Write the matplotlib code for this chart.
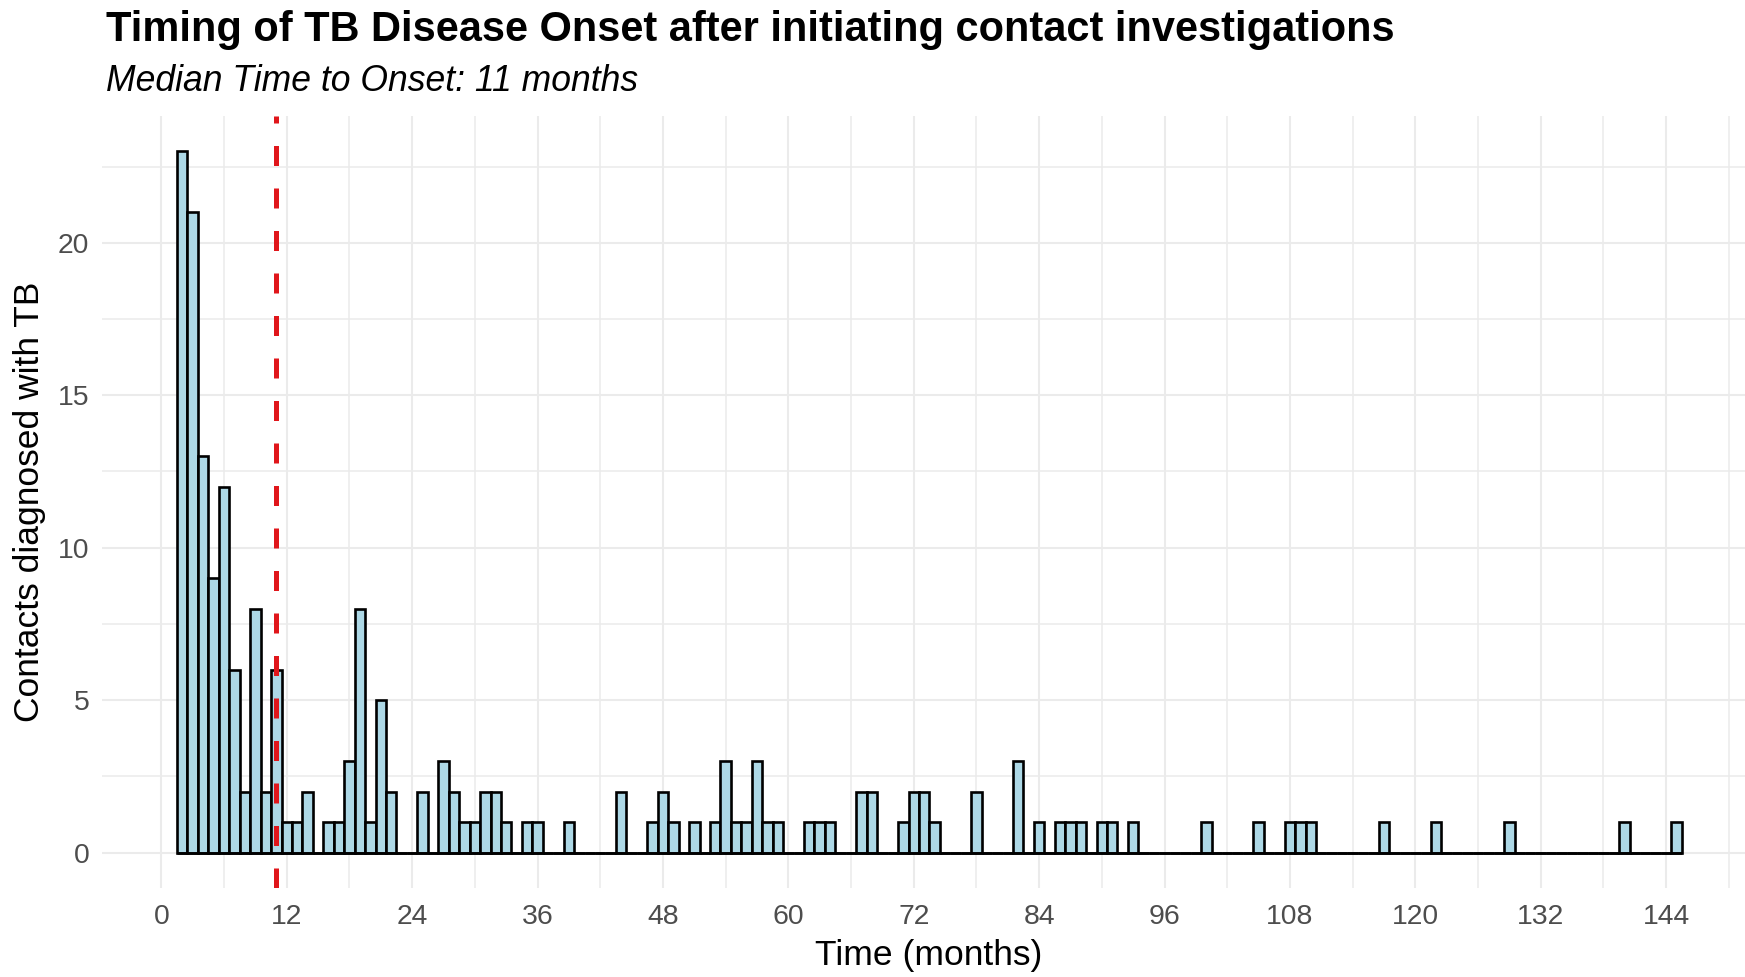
"""Histogram of months from contact investigation start to TB disease onset."""
import numpy as np
import matplotlib
matplotlib.use("Agg")
import matplotlib.pyplot as plt
from matplotlib.ticker import MultipleLocator

plt.rcParams["font.family"] = ["Liberation Sans", "DejaVu Sans"]

# months (1-month bins) with at least one contact diagnosed
onset_month = [2, 3, 4, 5, 6, 7, 8, 9, 10, 11, 12, 13, 14,
               16, 17, 18, 19, 20, 21, 22,
               25, 27, 28, 29, 30, 31, 32, 33, 35, 36, 39,
               44, 47, 48, 49, 51, 53, 54, 55, 56, 57, 58, 59,
               62, 63, 64, 67, 68, 71, 72, 73, 74, 78,
               82, 84, 86, 87, 88, 90, 91, 93,
               100, 105, 108, 109, 110, 117, 122, 129, 140, 145]
n_contacts = [23, 21, 13, 9, 12, 6, 2, 8, 2, 6, 1, 1, 2,
              1, 1, 3, 8, 1, 5, 2,
              2, 3, 2, 1, 1, 2, 2, 1, 1, 1, 1,
              2, 1, 2, 1, 1, 1, 3, 1, 1, 3, 1, 1,
              1, 1, 1, 2, 2, 1, 2, 2, 1, 2,
              3, 1, 1, 1, 1, 1, 1, 1,
              1, 1, 1, 1, 1, 1, 1, 1, 1, 1]
median_months = 11

# full run of bins so empty months still sit on the baseline
bins = np.arange(min(onset_month), max(onset_month) + 1)
counts = np.zeros(len(bins))
counts[np.searchsorted(bins, onset_month)] = n_contacts

W, H = 1745, 977
fig = plt.figure(figsize=(W / 100, H / 100), dpi=100)
fig.patch.set_facecolor("white")

# panel runs slightly past the right edge of the canvas
left, right, top, bottom = 101.8, 1757, 116.2, 887.6
ax = fig.add_axes([left / W, 1 - bottom / H, (right - left) / W, (bottom - top) / H])

ax.bar(bins, counts, width=1, color="#ADD8E6", edgecolor="black",
       linewidth=1.9, zorder=2)
ax.hlines(0, bins[0] - 0.5, bins[-1] + 0.5, color="black", linewidth=1.9,
          zorder=2.5)
ax.axvline(median_months, color="#E0161B", linewidth=3.6,
           dashes=(4, 4.5), zorder=3)

span = bins[-1] + 0.5 - (bins[0] - 0.5)
ax.set_xlim(bins[0] - 0.5 - 0.05 * span, bins[-1] + 0.5 + 0.05 * span)
ymax = max(n_contacts)
ax.set_ylim(-0.05 * ymax, ymax * 1.05)

ax.xaxis.set_major_locator(MultipleLocator(12))
ax.xaxis.set_minor_locator(MultipleLocator(6))
ax.yaxis.set_major_locator(MultipleLocator(5))
ax.yaxis.set_minor_locator(MultipleLocator(2.5))
ax.grid(which="major", color="#EBEBEB", linewidth=1.5, zorder=0)
ax.grid(which="minor", color="#EBEBEB", linewidth=1.1, zorder=0)
ax.set_axisbelow(True)
for s in ax.spines.values():
    s.set_visible(False)
ax.tick_params(which="both", length=0)
ax.tick_params(axis="x", labelsize=20.4, labelcolor="#4D4D4D", pad=12)
ax.tick_params(axis="y", labelsize=20.4, labelcolor="#4D4D4D", pad=9)

fig.text(106 / W, 1 - 41 / H,
         "Timing of TB Disease Onset after initiating contact investigations",
         fontsize=29.9, fontweight="bold", va="baseline", ha="left")
fig.text(106 / W, 1 - 91 / H, f"Median Time to Onset: {median_months} months",
         fontsize=25.6, style="italic", va="baseline", ha="left")
fig.text(929 / W, 1 - 955 / H, "Time (months)", fontsize=25.5,
         ha="center", va="center")
fig.text(30 / W, 1 - 502 / H, "Contacts diagnosed with TB", fontsize=25.5,
         rotation=90, ha="center", va="center")

fig.savefig("out.png", dpi=100)
